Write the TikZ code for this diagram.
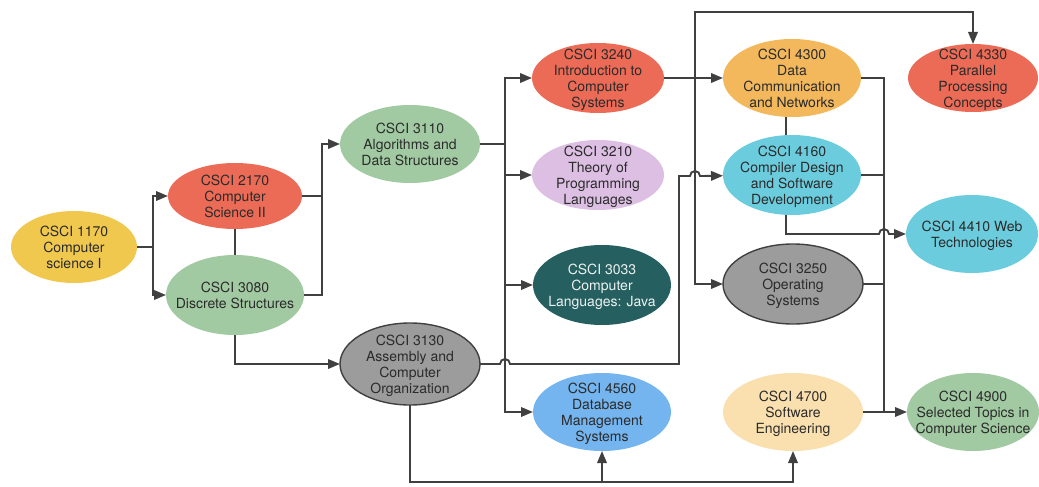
\documentclass[tikz,border=0pt]{standalone}
\usepackage{fontspec}
\setmainfont{TeX Gyre Heros}
\usetikzlibrary{arrows.meta,shapes.geometric}

\definecolor{cyellow}{HTML}{F0C84E}
\definecolor{cred}{HTML}{EC6B56}
\definecolor{cgreen}{HTML}{A2CAA2}
\definecolor{cgray}{HTML}{9C9C9C}
\definecolor{clilac}{HTML}{DCBFE3}
\definecolor{cteal}{HTML}{255F5F}
\definecolor{cblue}{HTML}{74B4EF}
\definecolor{corange}{HTML}{F3B85B}
\definecolor{ccyan}{HTML}{6BCCDE}
\definecolor{cpeach}{HTML}{FAE0AE}
\definecolor{linegray}{HTML}{404040}
\definecolor{txt}{HTML}{2B2B2B}

\newcommand{\crs}[1]{\smash{\raisebox{-5.5pt}{\makebox[0pt]{\begin{tabular}{@{}c@{}}#1\end{tabular}}}}}

\begin{document}
\begin{tikzpicture}[x=1pt,y=-1pt,->,>={Triangle[length=12pt,width=9.5pt]},line width=1.9pt,draw=linegray,
  course/.style={ellipse,inner sep=0pt,outer sep=0pt,text=txt,font=\fontsize{14}{16}\selectfont},
  dark node/.style={course,draw=linegray,line width=1.4pt}]

  \useasboundingbox (0,0) rectangle (1039,487);

  \node[course,fill=cyellow,minimum width=126pt,minimum height=72pt] (c1170) at (74,247) {\crs{CSCI 1170\\Computer\\science I}};
  \node[course,fill=cred,minimum width=134pt,minimum height=66pt]    (c2170) at (235,196) {\crs{CSCI 2170\\Computer\\Science II}};
  \node[course,fill=cgreen,minimum width=138pt,minimum height=80pt]  (c3080) at (235,295) {\crs{CSCI 3080\\Discrete Structures}};
  \node[course,fill=cgreen,minimum width=140pt,minimum height=78pt]  (c3110) at (410,144) {\crs{CSCI 3110\\Algorithms and\\Data Structures}};
  \node[dark node,fill=cgray,minimum width=140pt,minimum height=82pt] (c3130) at (410,364) {\crs{CSCI 3130\\Assembly and\\Computer\\Organization}};
  \node[course,fill=cred,minimum width=132pt,minimum height=70pt]    (c3240) at (598,78) {\crs{CSCI 3240\\Introduction to\\Computer\\Systems}};
  \node[course,fill=clilac,minimum width=132pt,minimum height=70pt]  (c3210) at (598,175) {\crs{CSCI 3210\\Theory of\\Programming\\Languages}};
  \node[course,fill=cteal,text=white!92!cteal,minimum width=138pt,minimum height=80pt] (c3033) at (602,285) {\crs{CSCI 3033\\Computer\\Languages: Java}};
  \node[course,fill=cblue,minimum width=138pt,minimum height=78pt]   (c4560) at (602,412) {\crs{CSCI 4560\\Database\\Management\\Systems}};
  \node[course,fill=corange,minimum width=138pt,minimum height=78pt] (c4300) at (792,78) {\crs{CSCI 4300\\Data\\Communication\\and Networks}};
  \node[course,fill=ccyan,minimum width=138pt,minimum height=80pt]   (c4160) at (792,175) {\crs{CSCI 4160\\Compiler Design\\and Software\\Development}};
  \node[dark node,fill=cgray,minimum width=140pt,minimum height=80pt] (c3250) at (793,284) {\crs{CSCI 3250\\Operating\\Systems}};
  \node[course,fill=cpeach,minimum width=140pt,minimum height=78pt]  (c4700) at (793,412) {\crs{CSCI 4700\\Software\\Engineering}};
  \node[course,fill=cred,minimum width=130pt,minimum height=68pt]    (c4330) at (973,78) {\crs{CSCI 4330\\Parallel\\Processing\\Concepts}};
  \node[course,fill=ccyan,minimum width=132pt,minimum height=78pt]   (c4410) at (972,234) {\crs{CSCI 4410 Web\\Technologies}};
  \node[course,fill=cgreen,minimum width=132pt,minimum height=78pt]  (c4900) at (973,412) {\crs{CSCI 4900\\Selected Topics in\\Computer Science}};

  \coordinate (s1) at (153,247);
  \coordinate (s2) at (322,144);
  \coordinate (t)  at (505,144);
  \coordinate (u)  at (695,78);
  \coordinate (b)  at (884,412);

  % first year
  \draw[-] (c1170.east) -- (s1);
  \draw (s1) |- (c2170);
  \draw (s1) |- (c3080);
  \draw[-] (c2170) -- (c3080);
  \draw[-] (c2170.east) -- (c2170.east -| s2);
  \draw (c3080.east) -| (s2) -- (c3110);
  \draw (c3080.south) |- (c3130);

  % trunk after 3110
  \draw[-] (c3110.east) -- (t);
  \draw (t) |- (c3240);
  \draw (t) |- (c3210);
  \draw (t) |- (c3033);
  \draw (t) |- (c4560);

  \draw (c3240) -- (c4300);
  \draw (u) -- (695,12) -| (c4330);
  \draw (u) |- (c3250);

  % 3130 onwards, with hops
  \draw (c3130.east) -- (500,364) arc[start angle=180,end angle=0,radius=5pt]
    -- (679,364) -- (679,176) -- (690,176) arc[start angle=180,end angle=0,radius=5pt] -- (c4160);
  \draw (c3130.south) -- (410,482) -| (c4700);
  \draw (c4560 |- 0,482) -- (c4560);

  \draw[-] ([xshift=-6pt]c4300.south) -- ([xshift=-6pt]c4160.north);
  \draw ([xshift=-6pt]c4160.south) |- (879,234) arc[start angle=180,end angle=0,radius=5pt] -- (c4410);

  % bus to 4900
  \draw (c4300.east) -| (b) -- (c4900);
  \draw[-] (c4160.east) -- (c4160.east -| b);
  \draw[-] (c3250.east) -- (c3250.east -| b);
  \draw[-] (c4700.east) -- (b);

\end{tikzpicture}
\end{document}
